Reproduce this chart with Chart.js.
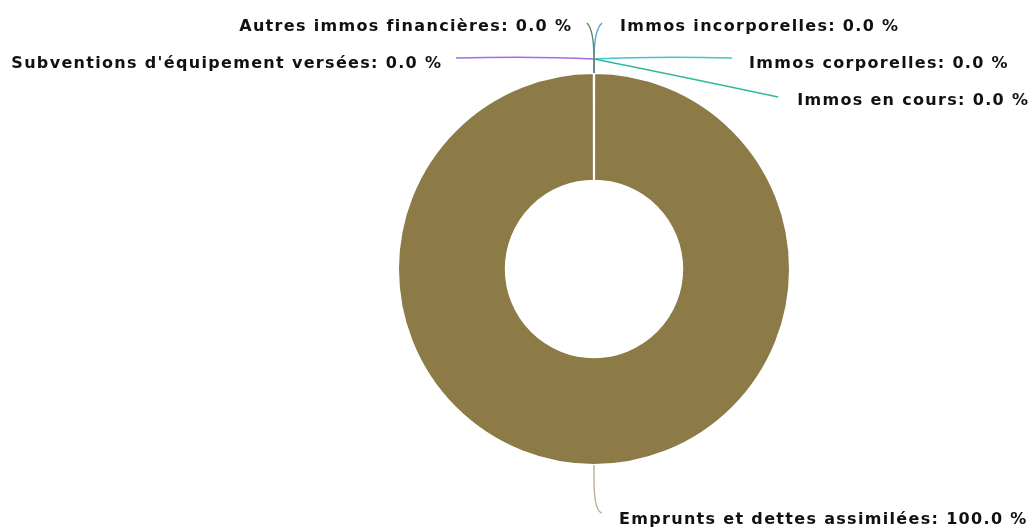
<!DOCTYPE html>
<html>
<head>
<meta charset="utf-8">
<script src="https://cdn.jsdelivr.net/npm/chart.js@4.4.1/dist/chart.umd.min.js"></script>
<style>
html,body{margin:0;padding:0;background:#fff;}
#wrap{width:1028px;height:527px;position:relative;}
</style>
</head>
<body>
<div id="wrap"><canvas id="c" width="1028" height="527"></canvas></div>
<script>
// Data (clockwise from the top)
const categories = [
  "Immos incorporelles",
  "Immos corporelles",
  "Immos en cours",
  "Emprunts et dettes assimilées",
  "Subventions d'équipement versées",
  "Autres immos financières"
];
const values = [0.004, 0.004, 0.004, 99.98, 0.004, 0.004];
const sliceColors = ["#55A0DE", "#40C6CF", "#30B79C", "#8C7B47", "#A66CE8", "#5F8A5E"];
const leaderColors = ["#55A0DE", "#40C6CF", "#30B79C", "#BDB08A", "#A66CE8", "#5F8A5E"];

// Label layout (relative to the point just outside each slice)
const labelLayout = [
  {cx: 0,   cy: -29, ex: 8,    ey: -36, gap: 18, base: 7.5, align: "left"},
  {cx: 60,  cy: -3,  ex: 138,  ey: -1,  gap: 17, base: 9.5, align: "left"},
  {cx: 90,  cy: 18,  ex: 184,  ey: 38,  gap: 19, base: 7.5, align: "left"},
  {cx: 0,   cy: 32,  ex: 8,    ey: 34,  gap: 17, base: 10.5, align: "left"},
  {cx: -60, cy: -3,  ex: -138, ey: -1,  gap: 15, base: 9.5, align: "right"},
  {cx: 0,   cy: -29, ex: -7,   ey: -36, gap: 16, base: 7.5, align: "right"}
];
const labelFont = "bold 16px 'DejaVu Sans', sans-serif";
const labelSpacing = 1.32;

const leaderPlugin = {
  id: "leaders",
  afterDatasetsDraw(chart) {
    const ctx = chart.ctx;
    const meta = chart.getDatasetMeta(0);
    const data = chart.data.datasets[0].data;
    const total = data.reduce((a, b) => a + b, 0);
    meta.data.forEach((arc, i) => {
      const p = arc.getProps(["x", "y", "startAngle", "endAngle", "outerRadius"], true);
      const mid = (p.startAngle + p.endAngle) / 2;
      const ax = p.x + Math.cos(mid) * p.outerRadius;
      const ay = p.y + Math.sin(mid) * p.outerRadius;
      const bx = ax + Math.cos(mid) * 14;
      const by = ay + Math.sin(mid) * 14;
      const L = labelLayout[i];
      const ex = bx + L.ex, ey = by + L.ey;
      ctx.save();
      ctx.strokeStyle = leaderColors[i];
      ctx.lineWidth = 1.4;
      ctx.beginPath();
      ctx.moveTo(ax, ay);
      ctx.lineTo(bx, by);
      ctx.quadraticCurveTo(bx + L.cx, by + L.cy, ex, ey);
      ctx.stroke();
      const pct = (data[i] / total * 100).toFixed(1);
      const text = categories[i] + ": " + pct + " %";
      ctx.font = labelFont;
      if ("letterSpacing" in ctx) ctx.letterSpacing = labelSpacing + "px";
      ctx.fillStyle = "#111";
      ctx.textBaseline = "alphabetic";
      ctx.textAlign = "left";
      let w = ctx.measureText(text).width;
      if ("letterSpacing" in ctx) w -= labelSpacing;
      const tx = L.align === "left" ? ex + L.gap : ex - L.gap - w;
      ctx.fillText(text, tx, ey + L.base);
      ctx.restore();
    });
  }
};

function draw() {
  new Chart(document.getElementById("c"), {
    type: "doughnut",
    data: {
      labels: categories,
      datasets: [{
        data: values,
        backgroundColor: sliceColors,
        borderColor: "#ffffff",
        borderWidth: 2
      }]
    },
    options: {
      responsive: false,
      animation: false,
      devicePixelRatio: 1,
      cutout: "45%",
      layout: {padding: {top: 72, bottom: 61, left: 300, right: 140}},
      plugins: {
        legend: {display: false},
        tooltip: {enabled: false},
        title: {display: false}
      }
    },
    plugins: [leaderPlugin]
  });
}
if (document.fonts && document.fonts.load) {
  document.fonts.load(labelFont).then(draw, draw);
} else {
  draw();
}
</script>
</body>
</html>
